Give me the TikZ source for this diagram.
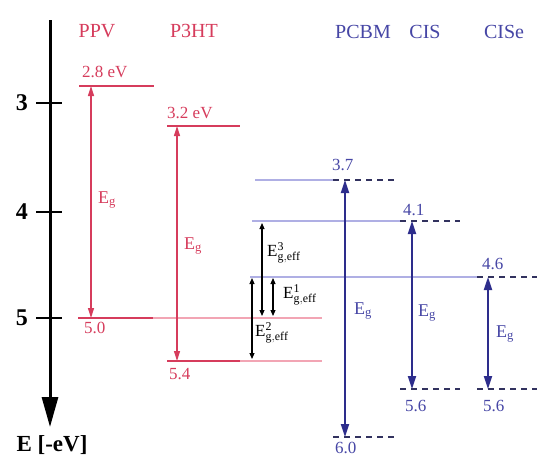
\documentclass[tikz,border=0pt]{standalone}
\usepackage{fontspec}
\setmainfont{Liberation Serif}
\usetikzlibrary{arrows.meta}
\definecolor{redd}{RGB}{214,60,92}
\definecolor{redl}{RGB}{242,165,180}
\definecolor{bluet}{RGB}{70,70,165}
\definecolor{blued}{RGB}{45,45,140}
\definecolor{bluel}{RGB}{175,175,228}
\definecolor{dashc}{RGB}{50,50,95}
\tikzset{
  lab/.style={inner sep=0pt, font=\fontsize{20}{22}\selectfont},
  rlab/.style={lab, text=redd},
  blab/.style={lab, text=bluet},
  val/.style={inner sep=0pt, anchor=west, font=\fontsize{17}{19}\selectfont},
  egl/.style={inner sep=0pt, anchor=west, font=\fontsize{18}{20}\selectfont},
  effl/.style={inner sep=0pt, anchor=west, font=\fontsize{17}{19}\selectfont},
  ticklab/.style={inner sep=0pt, font=\fontsize{24}{26}\selectfont\bfseries},
  rlev/.style={draw=redd, line width=1.8pt},
  rlevl/.style={draw=redl, line width=1.4pt},
  blevl/.style={draw=bluel, line width=1.3pt},
  dlev/.style={draw=dashc, line width=1.4pt, dash pattern=on 6pt off 5pt},
  rarr/.style={draw=redd, line width=1.4pt, {Triangle[width=6pt,length=10pt]}-{Triangle[width=6pt,length=10pt]}},
  barr/.style={draw=blued, line width=1.8pt, {Triangle[width=8pt,length=13pt]}-{Triangle[width=8pt,length=13pt]}},
  karr/.style={draw=black, line width=1.1pt, {Triangle[width=5pt,length=6pt]}-{Triangle[width=5pt,length=6pt]}},
}
\begin{document}
\begin{tikzpicture}[x=1pt,y=-1pt]
\useasboundingbox (0,0) rectangle (537,458);
% axis
\coordinate (axtop) at (50,20);
\coordinate (axbot) at (50,427);
\draw[line width=3pt, -{Triangle[width=16pt,length=30pt]}] (axtop) -- (axbot);
\foreach \yy/\t in {103/3,212/4,318/5}{
  \coordinate (tl\t) at (36,\yy);
  \coordinate (tr\t) at (62,\yy);
  \draw[line width=2.5pt] (tl\t) -- (tr\t);
  \node[ticklab] (tk\t) at (22,\yy) {\t};
}
\node[inner sep=0pt, font=\fontsize{23}{25}\selectfont\bfseries] (elab) at (52,445) {E [-eV]};
% headers
\node[rlab] (hppv) at (97,31) {PPV};
\node[rlab] (hp3ht) at (194,31) {P3HT};
\node[blab] (hpcbm) at (363,32) {PCBM};
\node[blab] (hcis) at (425,32) {CIS};
\node[blab] (hcise) at (504,32) {CISe};
% level coordinates
\coordinate (ppvLa) at (79,86);   \coordinate (ppvLb) at (154,86);
\coordinate (p3La) at (167,126);  \coordinate (p3Lb) at (240,126);
\coordinate (ppvHa) at (78,318);  \coordinate (ppvHb) at (153,318); \coordinate (ppvHc) at (322,318);
\coordinate (p3Ha) at (167,361);  \coordinate (p3Hb) at (240,361);  \coordinate (p3Hc) at (322,361);
\coordinate (pcLa) at (255,180);  \coordinate (pcLb) at (333,180);  \coordinate (pcLc) at (395,180);
\coordinate (ciLa) at (252,221);  \coordinate (ciLb) at (400,221);  \coordinate (ciLc) at (460,221);
\coordinate (ceLa) at (250,277);  \coordinate (ceLb) at (477,277);  \coordinate (ceLc) at (537,277);
\coordinate (ciHa) at (400,389);  \coordinate (ciHb) at (460,389);
\coordinate (ceHa) at (477,389);  \coordinate (ceHb) at (537,389);
\coordinate (pcHa) at (333,437);  \coordinate (pcHb) at (395,437);
% levels
\draw[rlevl] (ppvHb) -- (ppvHc);
\draw[rlevl] (p3Hb) -- (p3Hc);
\draw[rlev] (ppvLa) -- (ppvLb);
\draw[rlev] (p3La) -- (p3Lb);
\draw[rlev] (ppvHa) -- (ppvHb);
\draw[rlev] (p3Ha) -- (p3Hb);
\draw[blevl] (pcLa) -- (pcLb);
\draw[blevl] (ciLa) -- (ciLb);
\draw[blevl] (ceLa) -- (ceLb);
\draw[dlev] (pcLb) -- (pcLc);
\draw[dlev] (ciLb) -- (ciLc);
\draw[dlev] (ceLb) -- (ceLc);
\draw[dlev] (ciHa) -- (ciHb);
\draw[dlev] (ceHa) -- (ceHb);
\draw[dlev] (pcHa) -- (pcHb);
% value labels
\node[val, text=redd] (v28) at (82,72) {2.8 eV};
\node[val, text=redd] (v32) at (167,113) {3.2 eV};
\node[val, text=redd] (v50) at (84,328) {5.0};
\node[val, text=redd] (v54) at (169,374) {5.4};
\node[val, text=bluet] (v37) at (332,165) {3.7};
\node[val, text=bluet] (v41) at (403,210) {4.1};
\node[val, text=bluet] (v46) at (482,264) {4.6};
\node[val, text=bluet] (v56a) at (405,406) {5.6};
\node[val, text=bluet] (v56b) at (483,406) {5.6};
\node[val, text=bluet] (v60) at (335,448) {6.0};
% gap arrows
\coordinate (a1t) at (91,86);   \coordinate (a1b) at (91,318);
\coordinate (a2t) at (177,126); \coordinate (a2b) at (177,361);
\coordinate (a3t) at (345,180); \coordinate (a3b) at (345,437);
\coordinate (a4t) at (412,221); \coordinate (a4b) at (412,389);
\coordinate (a5t) at (488,277); \coordinate (a5b) at (488,389);
\draw[rarr] (a1t) -- (a1b);
\draw[rarr] (a2t) -- (a2b);
\draw[barr] (a3t) -- (a3b);
\draw[barr] (a4t) -- (a4b);
\draw[barr] (a5t) -- (a5b);
\node[egl, text=redd] (g1) at (98,200) {E\textsubscript{g}};
\node[egl, text=redd] (g2) at (184,246) {E\textsubscript{g}};
\node[egl, text=bluet] (g3) at (354,311) {E\textsubscript{g}};
\node[egl, text=bluet] (g4) at (418,313) {E\textsubscript{g}};
\node[egl, text=bluet] (g5) at (496,334) {E\textsubscript{g}};
% effective gaps
\coordinate (e3t) at (262,223); \coordinate (e3b) at (262,316);
\coordinate (e1t) at (273,278); \coordinate (e1b) at (273,316);
\coordinate (e2t) at (252,278); \coordinate (e2b) at (252,359);
\draw[karr] (e3t) -- (e3b);
\draw[karr] (e1t) -- (e1b);
\draw[karr] (e2t) -- (e2b);
\node[effl] (ef3) at (267,253) {$\mathrm{E}^{\mathrm{3}}_{\mathrm{g,eff}}$};
\node[effl] (ef1) at (283,295) {$\mathrm{E}^{\mathrm{1}}_{\mathrm{g,eff}}$};
\node[effl] (ef2) at (255,333) {$\mathrm{E}^{\mathrm{2}}_{\mathrm{g,eff}}$};
\end{tikzpicture}
\end{document}
